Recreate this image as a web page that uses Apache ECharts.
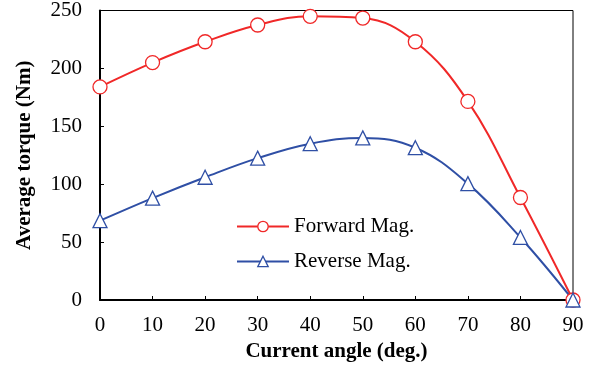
<!DOCTYPE html>
<html><head><meta charset="utf-8">
<script src="https://cdn.jsdelivr.net/npm/echarts@6/dist/echarts.min.js"></script>
<style>html,body{margin:0;padding:0;background:#fff}#c{width:601px;height:369px}</style>
</head><body><div id="c"></div>
<script>
const angles = [0,10,20,30,40,50,60,70,80,90];
const forwardMag = [184,205,223,237.5,245,243.5,223,171.5,88.5,0];
const reverseMag = [68.5,88,106,122.5,135,140,131.5,100.5,54,0];
const xTicks = {min:0,max:90,interval:10};
const yTicks = {min:0,max:250,interval:50};
const FONT = 'Liberation Serif';
const RED = '#f02828', BLUE = '#2f4fa5';
const chart = echarts.init(document.getElementById('c'));
chart.setOption({
  animation:false,
  textStyle:{fontFamily:FONT},
  grid:{left:100,right:28,top:8,bottom:69,show:true,borderColor:'#000',borderWidth:1},
  legend:{orient:'vertical',left:231,top:211,itemWidth:52,itemHeight:13,itemGap:14,
    textStyle:{fontFamily:FONT,fontSize:21,color:'#000'},
    data:[
      {name:'Forward Mag.',itemStyle:{color:'#fff',borderColor:RED,borderWidth:1.3}},
      {name:'Reverse Mag.',itemStyle:{color:'#fff',borderColor:BLUE,borderWidth:1.3}}
    ]},
  xAxis:{type:'value',min:xTicks.min,max:xTicks.max,interval:xTicks.interval,
    name:'Current angle (deg.)',nameLocation:'middle',nameGap:41,
    nameTextStyle:{fontFamily:FONT,fontSize:21,fontWeight:'bold',color:'#000'},
    axisLine:{lineStyle:{color:'#000',width:2}},
    axisTick:{inside:true,length:4,lineStyle:{color:'#000',width:1}},
    axisLabel:{margin:15,fontFamily:FONT,fontSize:21,color:'#000'},
    splitLine:{show:false}},
  yAxis:{type:'value',min:yTicks.min,max:yTicks.max,interval:yTicks.interval,
    name:'Average torque (Nm)',nameLocation:'middle',nameGap:65,
    nameTextStyle:{fontFamily:FONT,fontSize:21,fontWeight:'bold',color:'#000'},
    axisLine:{show:true,lineStyle:{color:'#000',width:2}},
    axisTick:{show:true,inside:true,length:4,lineStyle:{color:'#000',width:1}},
    axisLabel:{margin:18,fontFamily:FONT,fontSize:21,color:'#000'},
    splitLine:{show:false}},
  series:[
    {name:'Forward Mag.',type:'line',smooth:0.4,data:angles.map((a,i)=>[a,forwardMag[i]]),
     symbol:'circle',symbolSize:14,
     lineStyle:{color:RED,width:2},
     itemStyle:{color:'#fff',borderColor:RED,borderWidth:1.3}},
    {name:'Reverse Mag.',type:'line',smooth:0.4,data:angles.map((a,i)=>[a,reverseMag[i]]),
     symbol:'triangle',symbolSize:14,
     lineStyle:{color:BLUE,width:2},
     itemStyle:{color:'#fff',borderColor:BLUE,borderWidth:1.3}}
  ]
});
</script></body></html>
